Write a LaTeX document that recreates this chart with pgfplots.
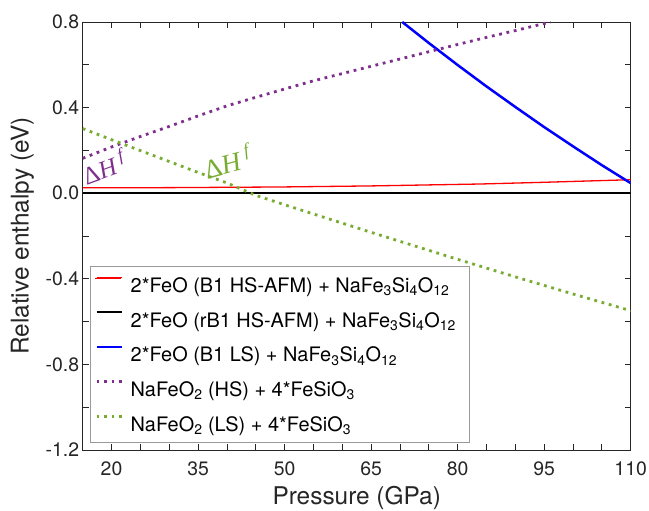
\documentclass[border=0pt]{standalone}
\usepackage{fontspec}
\setmainfont{TeX Gyre Heros}
\newfontfamily\annfont{Liberation Serif}
\usepackage{pgfplots}
\pgfplotsset{compat=1.18}
\definecolor{mpurple}{rgb}{0.494,0.184,0.556}
\definecolor{mgreen}{rgb}{0.466,0.674,0.188}
\definecolor{axgray}{gray}{0.15}
\newcommand{\dHf}{Δ\textit{H}\,\raisebox{0.45em}{\fontsize{18}{18}\selectfont\itshape f}}

\begin{document}
\begin{tikzpicture}
\path[use as bounding box] (-82.7bp,-61bp) rectangle (566.3bp,450bp);
\begin{axis}[
  at={(0,0)}, anchor=south west,
  scale only axis, width=548bp, height=428bp,
  xmin=15, xmax=110, ymin=-1.2, ymax=0.8,
  xtick={20,35,50,65,80,95,110},
  minor xtick={15,25,30,40,45,55,60,70,75,85,90,100,105},
  ytick={-1.2,-0.8,-0.4,0,0.4,0.8},
  minor ytick={-1,-0.6,-0.2,0.2,0.6},
  tick align=inside,
  major tick length=6bp, minor tick length=6bp,
  tick style={axgray, line width=0.8bp},
  axis line style={axgray, line width=0.8bp},
  /pgf/number format/assume math mode=true,
  ticklabel style={font=\fontsize{19.5}{20}\selectfont, text=axgray},
  y tick label style={/pgf/number format/fixed, /pgf/number format/fixed zerofill,
    /pgf/number format/precision=1},
  xticklabel shift=8bp,
  xlabel={Pressure (GPa)},
  ylabel={Relative enthalpy (eV)},
  xlabel style={font=\fontsize{24.5}{25}\selectfont, text=axgray,
    at={(axis description cs:0.5,-0.112)}, anchor=center},
  ylabel style={font=\fontsize{24.5}{25}\selectfont, text=axgray,
    at={(axis description cs:-0.11,0.5)}, anchor=center},
  no markers,
  clip mode=individual,
  legend cell align=left,
  legend image code/.code={\draw[#1] (0bp,7bp) -- (25.7bp,7bp);},
  legend style={at={(axis description cs:0.0133,0.0187)}, anchor=south west,
    draw=black!40, fill=white,
    font=\fontsize{20}{20}\selectfont,
    inner xsep=5bp, inner ysep=7.3bp,
    nodes={inner sep=0pt, text height=19bp, text depth=3bp},
    column sep=7bp, row sep=12.75bp},
]
\addplot[color=red, line width=1.3bp] coordinates {
  (15,0.025) (30,0.026) (49,0.029) (65,0.034) (84,0.043) (95,0.051) (110,0.063)
};
\addlegendentry{2*FeO (B1 HS-AFM) + NaFe\textsubscript{3}Si\textsubscript{4}O\textsubscript{12}}
\addplot[color=black, line width=2.2bp] coordinates {(15,0) (110,0)};
\addlegendentry{2*FeO (rB1 HS-AFM) + NaFe\textsubscript{3}Si\textsubscript{4}O\textsubscript{12}\hspace*{8bp}}
\addplot[color=blue, line width=2.5bp] coordinates {
  (70.4,0.8) (75,0.702) (80,0.599) (85,0.499) (90,0.403) (95,0.309)
  (100,0.219) (105,0.131) (110,0.047)
};
\addlegendentry{2*FeO (B1 LS) + NaFe\textsubscript{3}Si\textsubscript{4}O\textsubscript{12}}
\addplot[color=mpurple, line width=2.8bp, dash pattern=on 2.8bp off 4.7bp] coordinates {
  (15,0.163) (20,0.216) (25,0.265) (30,0.312) (35,0.361) (40,0.408)
  (45,0.448) (50,0.487) (55,0.525) (60,0.559) (65,0.593) (70,0.627)
  (75,0.661) (80,0.695) (85,0.728) (90,0.760) (96.1,0.800)
};
\addlegendentry{NaFeO\textsubscript{2} (HS) + 4*FeSiO\textsubscript{3}}
\addplot[color=mgreen, line width=2.8bp, dash pattern=on 2.8bp off 4.7bp] coordinates {
  (15,0.302) (20,0.250) (25,0.199) (30,0.148) (35,0.097) (40,0.048)
  (45,-0.010) (50,-0.054) (55,-0.097) (60,-0.140) (65,-0.183) (70,-0.225)
  (75,-0.267) (80,-0.309) (85,-0.350) (90,-0.391) (95,-0.431) (100,-0.471)
  (105,-0.510) (110,-0.549)
};
\addlegendentry{NaFeO\textsubscript{2} (LS) + 4*FeSiO\textsubscript{3}}
\node[rotate=20, text=mpurple, font=\annfont\fontsize{25}{25}\selectfont, inner sep=0pt]
  at (axis cs:18.6,0.125) {\dHf};
\node[rotate=15, text=mgreen, font=\annfont\fontsize{27}{27}\selectfont, inner sep=0pt]
  at (axis cs:40.0,0.15) {\dHf};
\end{axis}
% legend sample for the thin red series, redrawn on top so it keeps its colour
\draw[red, line width=1.6bp] (12.3bp,171.3bp) -- (38bp,171.3bp);
\end{tikzpicture}
\end{document}
